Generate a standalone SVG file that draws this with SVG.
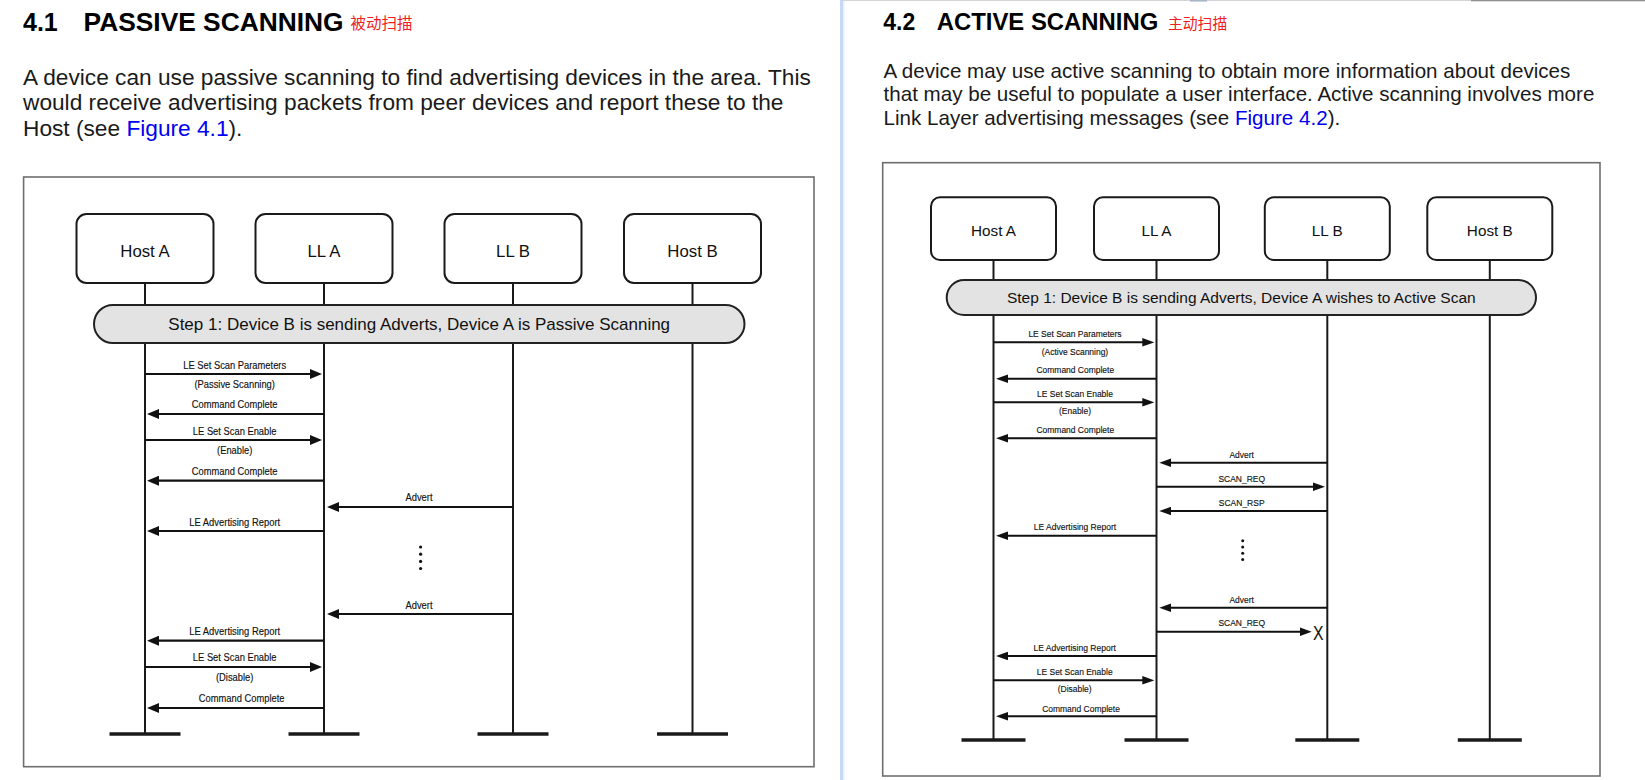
<svg xmlns="http://www.w3.org/2000/svg" width="1645" height="780" viewBox="0 0 1645 780">
<defs>
<style>
text{font-family:"Liberation Sans",Arial,"Noto Sans CJK SC",sans-serif;fill:#111}
.h{font-weight:bold;fill:#000}
.cjk{font-family:"Noto Sans CJK SC","Liberation Sans",sans-serif;fill:#ee1c25}
.pl{font-size:22.7px;fill:#1a1a1a}
.pr{font-size:20.6px;fill:#1a1a1a}
.link{fill:#0000f0}
.frame{fill:none;stroke:#6e6e6e;stroke-width:1.6}
.box{fill:#fff;stroke:#1a1a1a;stroke-width:2}
.step{fill:#e3e3e3;stroke:#222;stroke-width:2}
.life{stroke:#1a1a1a;stroke-width:2;fill:none}
.bar{stroke:#1a1a1a;stroke-width:3.5;fill:none}
.mL{stroke:#111;stroke-width:2.2;fill:none;marker-end:url(#ahL)}
.mR{stroke:#111;stroke-width:2;fill:none;marker-end:url(#ahR)}
.lblL{font-size:10.5px;text-anchor:middle;stroke:#111;stroke-width:0.15}
.lblR{font-size:9.7px;text-anchor:middle;stroke:#111;stroke-width:0.15}
.nodeL{font-size:16.8px;text-anchor:middle}
.nodeR{font-size:15.3px;text-anchor:middle}
.dot{fill:#111}
</style>
<marker id="ahL" markerUnits="userSpaceOnUse" markerWidth="12" markerHeight="10" refX="6" refY="5" orient="auto"><path d="M0,0 L12,5 L0,10 z" fill="#111"/></marker>
<marker id="ahR" markerUnits="userSpaceOnUse" markerWidth="12" markerHeight="8.6" refX="6" refY="4.3" orient="auto"><path d="M0,0 L12,4.3 L0,8.6 z" fill="#111"/></marker>
</defs>
<rect x="0" y="0" width="1645" height="780" fill="#fff"/>

<!-- screen artifacts -->
<rect x="840" y="0" width="3" height="780" fill="#c6daf5"/>
<rect x="843" y="0" width="1.5" height="780" fill="#e8f0fb"/>
<rect x="841" y="0" width="630" height="1" fill="#d4d4d4"/>
<rect x="1471" y="0" width="174" height="1.3" fill="#909090"/>
<rect x="1190" y="0" width="17" height="1.6" fill="#a9b6ca"/>

<!-- LEFT: 4.1 PASSIVE SCANNING -->
<g id="passive-heading">
<text class="h" font-size="25" y="30.5"><tspan x="23">4.1</tspan><tspan x="83.6" textLength="260" lengthAdjust="spacingAndGlyphs">PASSIVE SCANNING</tspan></text>
<text class="cjk" font-size="15.5" x="350.5" y="29.3">被动扫描</text>
<text class="pl" x="23" y="84.5">A device can use passive scanning to find advertising devices in the area. This</text>
<text class="pl" x="23" y="110">would receive advertising packets from peer devices and report these to the</text>
<text class="pl" x="23" y="136">Host (see <tspan class="link">Figure 4.1</tspan>).</text>
</g>

<g id="passive-figure">
<rect class="frame" x="23.6" y="177" width="790.4" height="589.7"/>
<g id="p-hostA">
<line class="life" x1="145" y1="283" x2="145" y2="734"/>
<line class="bar" x1="109.5" y1="734" x2="180.5" y2="734"/>
<rect class="box" x="76.5" y="214" width="137" height="69" rx="10"/>
<text class="nodeL" x="145" y="257">Host A</text>
</g>
<g id="p-llA">
<line class="life" x1="324" y1="283" x2="324" y2="734"/>
<line class="bar" x1="288.5" y1="734" x2="359.5" y2="734"/>
<rect class="box" x="255.5" y="214" width="137" height="69" rx="10"/>
<text class="nodeL" x="324" y="257">LL A</text>
</g>
<g id="p-llB">
<line class="life" x1="513" y1="283" x2="513" y2="734"/>
<line class="bar" x1="477.5" y1="734" x2="548.5" y2="734"/>
<rect class="box" x="444.5" y="214" width="137" height="69" rx="10"/>
<text class="nodeL" x="513" y="257">LL B</text>
</g>
<g id="p-hostB">
<line class="life" x1="692.5" y1="283" x2="692.5" y2="734"/>
<line class="bar" x1="657" y1="734" x2="728" y2="734"/>
<rect class="box" x="624" y="214" width="137" height="69" rx="10"/>
<text class="nodeL" x="692.5" y="257">Host B</text>
</g>
<g id="p-step">
<rect class="step" x="94" y="305" width="650.5" height="38" rx="19"/>
<text x="419.2" y="330" font-size="17" text-anchor="middle">Step 1: Device B is sending Adverts, Device A is Passive Scanning</text>
</g>
<g id="p-messages">
<line class="mL" x1="145" y1="374" x2="316" y2="374"/>
<text class="lblL" x="234.7" y="368.7" textLength="102.9" lengthAdjust="spacingAndGlyphs">LE Set Scan Parameters</text>
<text class="lblL" x="234.7" y="387.7" textLength="80.5" lengthAdjust="spacingAndGlyphs">(Passive Scanning)</text>
<line class="mL" x1="324" y1="414" x2="153" y2="414"/>
<text class="lblL" x="234.7" y="407.7" textLength="85.7" lengthAdjust="spacingAndGlyphs">Command Complete</text>
<line class="mL" x1="145" y1="440" x2="316" y2="440"/>
<text class="lblL" x="234.7" y="434.7" textLength="83.7" lengthAdjust="spacingAndGlyphs">LE Set Scan Enable</text>
<text class="lblL" x="234.7" y="453.7" textLength="35.3" lengthAdjust="spacingAndGlyphs">(Enable)</text>
<line class="mL" x1="324" y1="480.7" x2="153" y2="480.7"/>
<text class="lblL" x="234.7" y="474.7" textLength="85.7" lengthAdjust="spacingAndGlyphs">Command Complete</text>
<line class="mL" x1="513" y1="507" x2="333" y2="507"/>
<text class="lblL" x="419" y="500.7" textLength="27" lengthAdjust="spacingAndGlyphs">Advert</text>
<line class="mL" x1="324" y1="531" x2="153" y2="531"/>
<text class="lblL" x="234.7" y="525.7" textLength="90.9" lengthAdjust="spacingAndGlyphs">LE Advertising Report</text>
<circle class="dot" cx="420.6" cy="547" r="1.6"/>
<circle class="dot" cx="420.6" cy="554.2" r="1.6"/>
<circle class="dot" cx="420.6" cy="561.4" r="1.6"/>
<circle class="dot" cx="420.6" cy="568.5" r="1.6"/>
<line class="mL" x1="513" y1="614" x2="333" y2="614"/>
<text class="lblL" x="419" y="608.7" textLength="27" lengthAdjust="spacingAndGlyphs">Advert</text>
<line class="mL" x1="324" y1="640.7" x2="153" y2="640.7"/>
<text class="lblL" x="234.7" y="634.7" textLength="90.9" lengthAdjust="spacingAndGlyphs">LE Advertising Report</text>
<line class="mL" x1="145" y1="667" x2="316" y2="667"/>
<text class="lblL" x="234.7" y="660.7" textLength="83.7" lengthAdjust="spacingAndGlyphs">LE Set Scan Enable</text>
<text class="lblL" x="234.7" y="680.7" textLength="37.4" lengthAdjust="spacingAndGlyphs">(Disable)</text>
<line class="mL" x1="324" y1="708" x2="153" y2="708"/>
<text class="lblL" x="241.7" y="701.7" textLength="85.7" lengthAdjust="spacingAndGlyphs">Command Complete</text>
</g>
</g>

<!-- RIGHT: 4.2 ACTIVE SCANNING -->
<g id="active-heading">
<text class="h" font-size="23" y="30"><tspan x="883.3">4.2</tspan><tspan x="936.7" textLength="221.6" lengthAdjust="spacingAndGlyphs">ACTIVE SCANNING</tspan></text>
<text class="cjk" font-size="14.8" x="1168" y="28.5">主动扫描</text>
<text class="pr" x="883.5" y="77.6">A device may use active scanning to obtain more information about devices</text>
<text class="pr" x="883.5" y="101">that may be useful to populate a user interface. Active scanning involves more</text>
<text class="pr" x="883.5" y="124.8">Link Layer advertising messages (see <tspan class="link">Figure 4.2</tspan>).</text>
</g>

<g id="active-figure">
<rect class="frame" x="882.7" y="162.7" width="717.3" height="613.3"/>
<g id="a-hostA">
<line class="life" x1="993.5" y1="260" x2="993.5" y2="740"/>
<line class="bar" x1="961.5" y1="740" x2="1025.5" y2="740"/>
<rect class="box" x="931" y="197.3" width="125" height="62.7" rx="9"/>
<text class="nodeR" x="993.5" y="236">Host A</text>
</g>
<g id="a-llA">
<line class="life" x1="1156.5" y1="260" x2="1156.5" y2="740"/>
<line class="bar" x1="1124.5" y1="740" x2="1188.5" y2="740"/>
<rect class="box" x="1094" y="197.3" width="125" height="62.7" rx="9"/>
<text class="nodeR" x="1156.5" y="236">LL A</text>
</g>
<g id="a-llB">
<line class="life" x1="1327.3" y1="260" x2="1327.3" y2="740"/>
<line class="bar" x1="1295.3" y1="740" x2="1359.3" y2="740"/>
<rect class="box" x="1264.8" y="197.3" width="125" height="62.7" rx="9"/>
<text class="nodeR" x="1327.3" y="236">LL B</text>
</g>
<g id="a-hostB">
<line class="life" x1="1489.8" y1="260" x2="1489.8" y2="740"/>
<line class="bar" x1="1457.8" y1="740" x2="1521.8" y2="740"/>
<rect class="box" x="1427.3" y="197.3" width="125" height="62.7" rx="9"/>
<text class="nodeR" x="1489.8" y="236">Host B</text>
</g>
<g id="a-step">
<rect class="step" x="946.7" y="280" width="589.3" height="35" rx="17.5"/>
<text x="1241.3" y="302.8" font-size="15.5" text-anchor="middle">Step 1: Device B is sending Adverts, Device A wishes to Active Scan</text>
</g>
<g id="a-messages">
<line class="mR" x1="993.5" y1="342.3" x2="1148.3" y2="342.3"/>
<text class="lblR" x="1075" y="337.4" textLength="93.2" lengthAdjust="spacingAndGlyphs">LE Set Scan Parameters</text>
<text class="lblR" x="1075" y="355.1" textLength="66.4" lengthAdjust="spacingAndGlyphs">(Active Scanning)</text>
<line class="mR" x1="1156.5" y1="378.7" x2="1002" y2="378.7"/>
<text class="lblR" x="1075.3" y="373.4" textLength="77.7" lengthAdjust="spacingAndGlyphs">Command Complete</text>
<line class="mR" x1="993.5" y1="402.3" x2="1148.3" y2="402.3"/>
<text class="lblR" x="1075" y="396.7" textLength="75.8" lengthAdjust="spacingAndGlyphs">LE Set Scan Enable</text>
<text class="lblR" x="1075" y="414.4" textLength="32" lengthAdjust="spacingAndGlyphs">(Enable)</text>
<line class="mR" x1="1156.5" y1="438.3" x2="1002" y2="438.3"/>
<text class="lblR" x="1075.3" y="433.4" textLength="77.7" lengthAdjust="spacingAndGlyphs">Command Complete</text>
<line class="mR" x1="1327.3" y1="462.7" x2="1165.3" y2="462.7"/>
<text class="lblR" x="1241.7" y="458.1" textLength="24.5" lengthAdjust="spacingAndGlyphs">Advert</text>
<line class="mR" x1="1156.5" y1="486.7" x2="1319" y2="486.7"/>
<text class="lblR" x="1241.7" y="481.7" textLength="46.6" lengthAdjust="spacingAndGlyphs">SCAN_REQ</text>
<line class="mR" x1="1327.3" y1="511" x2="1165.3" y2="511"/>
<text class="lblR" x="1241.7" y="505.7" textLength="45.7" lengthAdjust="spacingAndGlyphs">SCAN_RSP</text>
<line class="mR" x1="1156.5" y1="535.7" x2="1002" y2="535.7"/>
<text class="lblR" x="1075" y="530.4" textLength="82.4" lengthAdjust="spacingAndGlyphs">LE Advertising Report</text>
<circle class="dot" cx="1242.7" cy="540.8" r="1.5"/>
<circle class="dot" cx="1242.7" cy="547" r="1.5"/>
<circle class="dot" cx="1242.7" cy="553.3" r="1.5"/>
<circle class="dot" cx="1242.7" cy="559.5" r="1.5"/>
<line class="mR" x1="1327.3" y1="607.7" x2="1165.3" y2="607.7"/>
<text class="lblR" x="1241.7" y="602.7" textLength="24.5" lengthAdjust="spacingAndGlyphs">Advert</text>
<line class="mR" x1="1156.5" y1="631.7" x2="1305.7" y2="631.7"/>
<text class="lblR" x="1241.7" y="626.1" textLength="46.6" lengthAdjust="spacingAndGlyphs">SCAN_REQ</text>
<text x="1313" y="640" font-size="20" textLength="10.5" lengthAdjust="spacingAndGlyphs">X</text>
<line class="mR" x1="1156.5" y1="656" x2="1002" y2="656"/>
<text class="lblR" x="1074.7" y="650.7" textLength="82.4" lengthAdjust="spacingAndGlyphs">LE Advertising Report</text>
<line class="mR" x1="993.5" y1="680.3" x2="1148.3" y2="680.3"/>
<text class="lblR" x="1074.7" y="675.4" textLength="75.8" lengthAdjust="spacingAndGlyphs">LE Set Scan Enable</text>
<text class="lblR" x="1074.7" y="692.1" textLength="33.9" lengthAdjust="spacingAndGlyphs">(Disable)</text>
<line class="mR" x1="1156.5" y1="716.3" x2="1002" y2="716.3"/>
<text class="lblR" x="1081" y="711.7" textLength="77.7" lengthAdjust="spacingAndGlyphs">Command Complete</text>
</g>
</g>
</svg>
